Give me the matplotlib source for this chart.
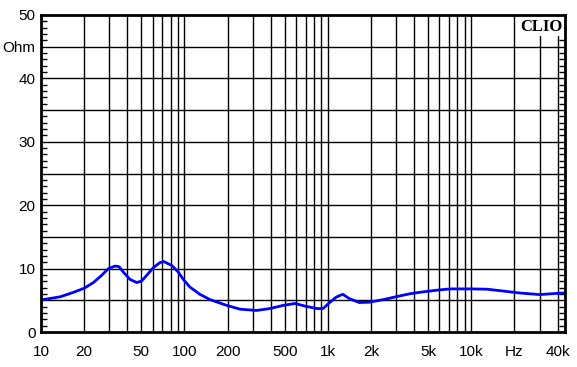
import matplotlib.pyplot as plt
from matplotlib.ticker import FixedLocator, NullFormatter

# impedance curve (Hz, Ohm)
freq = [10, 13.6, 16.8, 20, 23.2, 26.5, 29.5, 32.8, 35, 37.5, 41.7, 46.5, 50.4,
        54.6, 60.7, 67.5, 72, 81.5, 90.6, 98.2, 109, 128, 151, 197, 244, 318,
        395, 489, 590, 689, 835, 926, 1029, 1143, 1270, 1414, 1658, 1946,
        2425, 3040, 3770, 4680, 5800, 7100, 9900, 12900, 16800, 21800, 30000,
        37000, 45000]
ohm = [5.05, 5.55, 6.25, 6.9, 7.8, 8.95, 10.0, 10.4, 10.3, 9.45, 8.3, 7.8, 8.05,
       8.95, 10.15, 10.95, 11.1, 10.5, 9.45, 8.3, 7.1, 5.95, 5.1, 4.2, 3.6, 3.4,
       3.7, 4.2, 4.5, 4.1, 3.7, 3.7, 4.65, 5.5, 5.95, 5.25, 4.65, 4.7,
       5.1, 5.6, 6.05, 6.35, 6.6, 6.8, 6.8, 6.75, 6.45, 6.15, 5.9,
       6.05, 6.15]

xgrid = [20, 30, 40, 50, 60, 70, 80, 90, 100, 200, 300, 400, 500, 600, 700, 800, 900,
         1000, 2000, 3000, 4000, 5000, 6000, 7000, 8000, 9000, 10000, 20000, 30000, 40000]
xticks = [10, 20, 50, 100, 200, 500, 1000, 2000, 5000, 10000, 20000, 40000]
xlabels = ['10', '20', '50', '100', '200', '500', '1k', '2k', '5k', '10k', 'Hz', '40k']
yticks = [0, 10, 20, 30, 40, 45, 50]
ylabels = ['0', '10', '20', '30', '40', 'Ohm', '50']

plt.rcParams['font.family'] = ['Liberation Sans', 'DejaVu Sans']

fig = plt.figure(figsize=(5.77, 3.67), dpi=100)
ax = fig.add_axes([41/577, 35/367, 524/577, 317/367])

ax.set_xscale('log')
ax.set_xlim(10, 45000)
ax.set_ylim(0, 50)

# grid
for f in xgrid:
    ax.axvline(f, color='black', lw=1.0, zorder=1)
for v in range(5, 50, 5):
    ax.axhline(v, color='black', lw=1.0, zorder=1)

ax.plot(freq, ohm, color='#0000ff', lw=2.0, zorder=3)

ax.xaxis.set_major_locator(FixedLocator(xticks))
ax.xaxis.set_minor_locator(FixedLocator([]))
ax.set_xticks(xticks)
ax.set_xticklabels(xlabels, fontsize=11)
ax.tick_params(axis='x', length=0, pad=9)

ax.set_yticks(yticks)
ax.set_yticklabels(ylabels, fontsize=11)
ax.set_yticks([v for v in range(1, 50) if v % 5 != 0], minor=True)
ax.yaxis.set_minor_formatter(NullFormatter())
ax.tick_params(axis='y', which='major', length=0, pad=4)
ax.tick_params(axis='y', which='minor', direction='in', length=4, width=1,
               left=True, right=True)

for s in ax.spines.values():
    s.set_linewidth(2)
    s.set_zorder(5)

ax.text(0.995, 0.988, 'CLIO', transform=ax.transAxes, ha='right', va='top',
        fontsize=12, fontweight='bold', family='Liberation Serif', zorder=6,
        bbox=dict(facecolor='white', edgecolor='none', pad=1))

fig.savefig('out.png', dpi=100)
